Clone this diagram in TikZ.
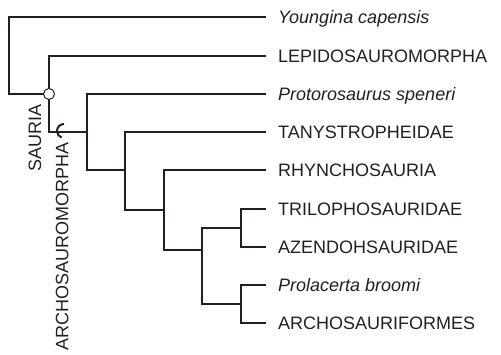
\documentclass[tikz,border=0pt]{standalone}
\usepackage{fontspec}
\setmainfont{Liberation Sans}
\usepackage{tikz}
\definecolor{treeline}{HTML}{231F20}

\begin{document}
\begin{tikzpicture}[
  x=1pt, y=-1pt,
  branch/.style={draw=treeline, line width=2.5pt},
  taxon/.style={anchor=west, inner xsep=12pt, inner ysep=0pt, text height=12.5pt, text depth=0pt, font=\fontsize{18}{21}\selectfont, text=treeline},
  clade/.style={rotate=90, anchor=east, inner sep=0pt, text height=12.5pt, text depth=0pt, font=\fontsize{18}{21}\selectfont, text=treeline},
  nodedot/.style={circle, draw=treeline, line width=1pt, fill=white, minimum size=11pt, inner sep=0pt}
]
  \useasboundingbox (0,0) rectangle (501,355);
  \node[taxon] (youngina) at (266,17) {\itshape Youngina capensis};
  \node[taxon] (lepido) at (266,56) {LEPIDOSAUROMORPHA};
  \node[taxon] (protoro) at (266,94) {\itshape Protorosaurus speneri};
  \node[taxon] (tanystro) at (266,132) {TANYSTROPHEIDAE};
  \node[taxon] (rhyncho) at (266,170) {RHYNCHOSAURIA};
  \node[taxon] (trilopho) at (266,209) {TRILOPHOSAURIDAE};
  \node[taxon] (azendoh) at (266,247) {AZENDOHSAURIDAE};
  \node[taxon] (prolacerta) at (266,285) {\itshape Prolacerta broomi};
  \node[taxon] (archoform) at (266,323) {ARCHOSAURIFORMES};
  \coordinate (root) at (9,55);
  \coordinate (sauria) at (49,94);
  \coordinate (archo) at (87,132);
  \coordinate (n3) at (125,170);
  \coordinate (n4) at (164,210);
  \coordinate (n5) at (202,250);
  \coordinate (n6) at (241,228);
  \coordinate (n7) at (241,304);
  \draw[branch] (root) |- (youngina.west);
  \draw[branch] (root) |- (sauria);
  \draw[branch] (sauria) |- (lepido.west);
  \draw[branch] (sauria) |- (archo);
  \draw[branch] (archo) |- (protoro.west);
  \draw[branch] (archo) |- (n3);
  \draw[branch] (n3) |- (tanystro.west);
  \draw[branch] (n3) |- (n4);
  \draw[branch] (n4) |- (rhyncho.west);
  \draw[branch] (n4) |- (n5);
  \draw[branch] (n5) |- (n6);
  \draw[branch] (n5) |- (n7);
  \draw[branch] (n6) |- (trilopho.west);
  \draw[branch] (n6) |- (azendoh.west);
  \draw[branch] (n7) |- (prolacerta.west);
  \draw[branch] (n7) |- (archoform.west);
  \node[nodedot] (sauriadot) at (sauria) {};
  \draw[treeline, line width=2pt] (64,124) arc[start angle=90, end angle=250, radius=7pt];
  \node[clade] (saurialab) at (35,104) {SAURIA};
  \node[clade] (archolab) at (62,142) {ARCHOSAUROMORPHA};
\end{tikzpicture}
\end{document}
